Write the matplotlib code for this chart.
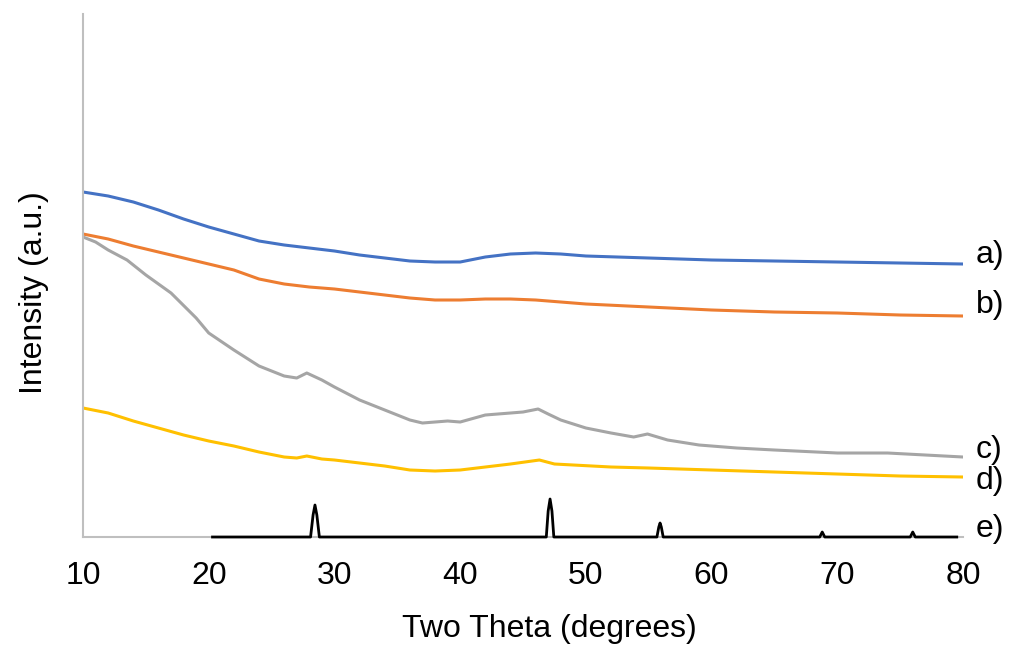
import matplotlib
matplotlib.use("Agg")
import matplotlib.pyplot as plt

plt.rcParams['font.family'] = ['Liberation Sans', 'DejaVu Sans']

# a) blue
a_x = [10, 12, 14, 16, 18, 20, 22, 24, 26, 28, 30, 32, 34, 36, 38, 40, 42, 44, 46, 48, 50, 55, 60, 65, 70, 75, 80]
a_y = [345, 341, 335, 327, 318, 310, 303, 296, 292, 289, 286, 282, 279, 276, 275, 275, 280, 283, 284, 283, 281, 279, 277, 276, 275, 274, 273]

# b) orange
b_x = [10, 12, 14, 16, 18, 20, 22, 24, 26, 28, 30, 32, 34, 36, 38, 40, 42, 44, 46, 48, 50, 55, 60, 65, 70, 75, 80]
b_y = [303, 298, 291, 285, 279, 273, 267, 258, 253, 250, 248, 245, 242, 239, 237, 237, 238, 238, 237, 235, 233, 230, 227, 225, 224, 222, 221]

# c) gray
c_x = [10, 11, 12, 13.5, 15, 17, 19, 20, 22, 24, 26, 27, 27.8, 29, 30, 32, 34, 36, 37, 39, 40,
       42, 44, 45, 46.2, 47, 48, 50, 52, 53.8, 54.9, 56.5, 59, 62, 65, 70, 74, 77, 80]
c_y = [300, 295, 287, 277, 262, 244, 219, 204, 187, 171, 161, 159, 164, 157, 150, 137, 127, 117, 114, 116, 115,
       122, 124, 125, 128, 123, 117, 109, 104, 100, 103, 97, 92, 89, 87, 84, 84, 82, 80]

# d) yellow
d_x = [10, 12, 14, 16, 18, 20, 22, 24, 26, 27, 27.8, 29, 30, 32, 34, 36, 38, 40, 42, 44, 46.3, 47.5,
       49, 52, 55, 60, 65, 70, 75, 80]
d_y = [129, 124, 116, 109, 102, 96, 91, 85, 80, 79, 81, 78, 77, 74, 71, 67, 66, 67, 70, 73, 77, 73,
       72, 70, 69, 67, 65, 63, 61, 60]

# e) reference pattern (black)
e_x = [20.3, 28.1, 28.3, 28.45, 28.6, 28.8, 46.85, 47.0, 47.15, 47.3, 47.45,
       55.65, 55.8, 55.9, 56.0, 56.15, 68.6, 68.8, 69.0, 75.8, 76.0, 76.2, 79.5]
e_y = [0, 0, 22, 32, 22, 0, 0, 26, 38, 26, 0,
       0, 10, 14, 10, 0, 0, 5, 0, 0, 5, 0, 0]

labels = ['a)', 'b)', 'c)', 'd)', 'e)']
label_y = [282, 232, 87, 56, 8]

fig = plt.figure(figsize=(10.1, 6.51), dpi=100)
ax = fig.add_axes([0.0822, 0.1751, 0.8713, 0.8034])

ax.plot(a_x, a_y, color='#4472C4', lw=2.2)
ax.plot(b_x, b_y, color='#ED7D31', lw=2.2)
ax.plot(c_x, c_y, color='#A5A5A5', lw=2.2)
ax.plot(d_x, d_y, color='#FFC000', lw=2.2)
ax.plot(e_x, e_y, color='black', lw=2.0, zorder=3, clip_on=False)

for lab, ly in zip(labels, label_y):
    ax.text(81.0, ly, lab, fontsize=23, va='center', ha='left', clip_on=False)

ax.set_xlim(10, 80)
ax.set_ylim(0, 523)
ax.set_xticks(range(10, 81, 10))
ax.set_yticks([])
ax.tick_params(axis='x', length=0, pad=17, labelsize=23)

for s in ['top', 'right']:
    ax.spines[s].set_visible(False)
for s in ['left', 'bottom']:
    ax.spines[s].set_color('#bfbfbf')
    ax.spines[s].set_linewidth(1.5)

ax.set_xlabel('Two Theta (degrees)', fontsize=23)
ax.set_ylabel('Intensity (a.u.)', fontsize=23)
ax.xaxis.set_label_coords(0.53, -0.148)
ax.yaxis.set_label_coords(-0.039, 0.468)

fig.savefig('out.png', dpi=100)
